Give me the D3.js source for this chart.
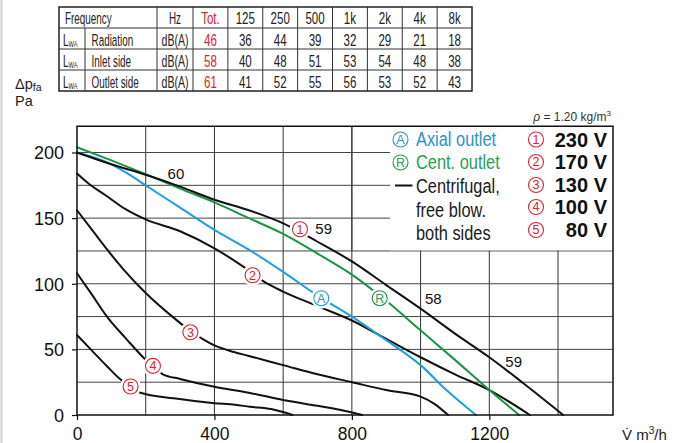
<!DOCTYPE html>
<html><head><meta charset="utf-8">
<script src="https://cdn.jsdelivr.net/npm/d3@7/dist/d3.min.js"></script>
<style>
html,body{margin:0;padding:0;background:#fff;}
svg{display:block;}
text{font-family:"Liberation Sans",Arial,Helvetica,sans-serif;}
</style></head>
<body>
<svg id="c" width="679" height="443"></svg>
<script>
// ---------- DATA ----------
const tableHead = ["Frequency","Hz"];
const tableCols = ["Tot.","125","250","500","1k","2k","4k","8k"];
const tableRowNames = ["Radiation","Inlet side","Outlet side"];
const tableUnit = "dB(A)";
const lwaRadiation = [46,36,44,39,32,29,21,18];
const lwaInlet     = [58,40,48,51,53,54,48,38];
const lwaOutlet    = [61,41,52,55,56,53,52,43];

const xTicks = [0,400,800,1200];
const yTicks = [0,50,100,150,200];

const curve230 = [[0,200],[100,191],[200,183],[300,174],[400,164],[500,156],[600,146],[700,132],[800,117],[900,99],[1000,81],[1100,62],[1200,44],[1300,24],[1415,0]];
const curve170 = [[0,184],[40,175],[80,168],[140,157],[200,149],[300,140],[400,127],[484,113],[542,102],[600,94],[700,83],[800,72],[900,58],[1000,44],[1100,31],[1200,19],[1318,0]];
const curve130 = [[0,156],[50,139],[88,126],[135,111],[200,93],[282,74],[330,64],[365,58],[400,53],[457,48],[500,45],[600,38],[700,31],[800,25],[900,19],[1000,14],[1040,8.5],[1080,0]];
const curve100 = [[0,108],[40,93],[90,74],[140,59],[200,42],[250,31],[300,27.5],[400,21.5],[500,17],[600,11.5],[700,7],[765,4],[830,0]];
const curve80  = [[0,61],[40,50],[88,37],[127,27],[156,21.5],[185,17],[282,12.7],[400,9],[460,7.8],[503,6.3],[565,4.5],[627,0]];
const curveAxial = [[0,200],[100,191],[150,183.5],[200,175],[300,158],[400,141],[500,126],[600,109],[700,91],[800,75],[900,57],[1000,38],[1075,19],[1161,0]];
const curveCent  = [[0,204],[100,194],[200,183.5],[300,172.5],[400,162],[500,150],[600,138],[700,123],[800,107],[900,87],[1000,64.5],[1100,42],[1200,19],[1287,0]];

const curveMarks = [
  {t:"1",x:649,y:141.5,k:"red"},{t:"2",x:511,y:106.5,k:"red"},{t:"3",x:330,y:63},
  {t:"4",x:221,y:37.4},{t:"5",x:156,y:21.7},{t:"A",x:711,y:89,k:"blue"},{t:"R",x:881,y:89,k:"green"}
];
const levelLabels = [{t:"60",x:288,y:184},{t:"59",x:718,y:142},{t:"58",x:1037,y:89},{t:"59",x:1271,y:41}];
const legendLines = ["Axial outlet","Cent. outlet","Centrifugal,","free blow.","both sides"];
const voltages = ["230 V","170 V","130 V","100 V","80 V"];

// ---------- STYLE ----------
const RED="#e3202b", BLUE="#1e9fdc", BLUET="#2b93c6", GREEN="#1c9446", GREENT="#27a058";
const colorOf = k => k==="blue"?BLUE:(k==="green"?GREEN:RED);
const textColorOf = k => k==="blue"?BLUET:(k==="green"?GREENT:RED);

const svg = d3.select("#c");
svg.append("line").attr("x1",1.5).attr("x2",1.5).attr("y1",0).attr("y2",443).attr("stroke","#d0d0d0").attr("stroke-width",2);

function ntext(parent,x,y,str,size,sx,anchor,color){
  return parent.append("text").attr("transform",`translate(${x},${y}) scale(${sx},1)`)
    .attr("font-size",size).attr("text-anchor",anchor||"start").attr("fill",color||"#222").text(str);
}

// ---------- TABLE ----------
const tb = svg.append("g");
const colX = d3.scaleBand().domain(tableCols).range([193,472]);
const rowY = d3.scaleBand().domain(["head",...tableRowNames]).range([7,91]);
const tL=59, tSub=85, tHz=157, tR=472;
["head",...tableRowNames].forEach((r,i)=>{
  if(i>0) tb.append("line").attr("x1",tL).attr("x2",tR).attr("y1",rowY(r)).attr("y2",rowY(r)).attr("stroke","#333").attr("stroke-width",1);
});
[tHz,...tableCols.map(c=>colX(c))].forEach(x=>{
  tb.append("line").attr("x1",x).attr("x2",x).attr("y1",7).attr("y2",91).attr("stroke","#333").attr("stroke-width",1);
});
tb.append("line").attr("x1",tSub).attr("x2",tSub).attr("y1",rowY("Radiation")).attr("y2",91).attr("stroke","#333").attr("stroke-width",1);
tb.append("rect").attr("x",tL).attr("y",7).attr("width",tR-tL).attr("height",84).attr("fill","none").attr("stroke","#222").attr("stroke-width",1.5);

const fs=16.5, sw=0.6, sn=0.7;
const hb = rowY("head")+rowY.bandwidth()-4;
ntext(tb,65,hb,tableHead[0],fs,sw);
ntext(tb,(tHz+colX("Tot."))/2,hb,tableHead[1],fs,sw,"middle");
tableCols.forEach(c=>ntext(tb,colX(c)+colX.bandwidth()/2,hb,c,fs,sn,"middle",c==="Tot."?RED:"#222"));
const rowsData=[lwaRadiation,lwaInlet,lwaOutlet];
tableRowNames.forEach((r,i)=>{
  const b=rowY(r)+rowY.bandwidth()-3.5;
  const t=ntext(tb,63,b,"",fs,sw);
  t.append("tspan").text("L");
  t.append("tspan").attr("font-size",9.5).attr("dy",1.5).text("WA");
  ntext(tb,91.5,b,r,fs,sw);
  ntext(tb,(tHz+colX("Tot."))/2,b,tableUnit,fs,0.64,"middle");
  rowsData[i].forEach((v,j)=>ntext(tb,colX(tableCols[j])+colX.bandwidth()/2,b,v,fs,sn,"middle",j===0?RED:"#222"));
});

// ---------- CHART ----------
const x = d3.scaleLinear().domain([0,1560]).range([77,613]);
const y = d3.scaleLinear().domain([0,220]).range([415,126.25]);
const g = svg.append("g");

const grid = g.append("g").attr("stroke","#333").attr("stroke-width",1);
d3.range(200,1560,200).forEach(v=>{
  grid.append("line").attr("x1",x(v)).attr("x2",x(v)).attr("y1",y(220)).attr("y2",y(0));
});
d3.range(25,220,25).forEach(v=>{
  grid.append("line").attr("x1",x(0)).attr("x2",x(1560)).attr("y1",y(v)).attr("y2",y(v)).attr("stroke","#444");
});
g.append("rect").attr("x",390).attr("y",y(220)).attr("width",x(1560)-390).attr("height",y(125)-y(220)-0.6).attr("fill","#fff");
g.append("line").attr("x1",x(800)).attr("x2",x(800)).attr("y1",y(220)).attr("y2",y(125)).attr("stroke","#333");

const ax = g.append("g").attr("transform",`translate(0,${y(0)})`).call(d3.axisBottom(x).tickValues(xTicks).tickSize(5).tickSizeOuter(0).tickFormat(d3.format("d")));
const ay = g.append("g").attr("transform",`translate(${x(0)},0)`).call(d3.axisLeft(y).tickValues(yTicks).tickSize(5).tickSizeOuter(0).tickPadding(8));
[ax,ay].forEach(a=>{
  a.select(".domain").remove();
  a.selectAll(".tick line").attr("stroke","#111").attr("stroke-width",1.2);
  a.selectAll("text").attr("font-family","Liberation Sans, Arial, sans-serif").attr("font-size",18).attr("fill","#111");
});
ay.selectAll("text").attr("dy","0.36em");
ax.selectAll("text").attr("y",25).attr("dy",0).attr("font-size",17.5);

const line = d3.line().x(d=>x(d[0])).y(d=>y(d[1])).curve(d3.curveMonotoneX);
const cg = g.append("g").attr("fill","none").attr("stroke-linejoin","round").attr("stroke-linecap","round");
[curve80,curve100,curve130,curve170].forEach(c=>cg.append("path").attr("d",line(c)).attr("stroke","#111").attr("stroke-width",2));
cg.append("path").attr("d",line(curveAxial)).attr("stroke",BLUE).attr("stroke-width",2);
cg.append("path").attr("d",line(curveCent)).attr("stroke",GREEN).attr("stroke-width",2);
cg.append("path").attr("d",line(curve230)).attr("stroke","#111").attr("stroke-width",2);

g.append("rect").attr("x",x(0)).attr("y",y(220)).attr("width",x(1560)-x(0)).attr("height",y(0)-y(220)).attr("fill","none").attr("stroke","#111").attr("stroke-width",1.5);

function circled(parent,cx,cy,t,col,tcol,bg){
  if(bg) parent.append("circle").attr("cx",cx).attr("cy",cy).attr("r",bg).attr("fill","#fff");
  parent.append("circle").attr("cx",cx).attr("cy",cy).attr("r",7.5).attr("fill","none").attr("stroke",col).attr("stroke-width",1.1);
  parent.append("text").attr("x",cx).attr("y",cy+4.4).attr("text-anchor","middle").attr("font-size",12.5).attr("fill",tcol).text(t);
}
curveMarks.forEach(m=>circled(g,x(m.x),y(m.y),m.t,colorOf(m.k),textColorOf(m.k),10.5));
levelLabels.forEach(l=>{
  g.append("text").attr("x",x(l.x)).attr("y",y(l.y)+5.5).attr("text-anchor","middle").attr("font-size",15).attr("fill","#111").text(l.t);
});

const lg = svg.append("g");
circled(lg,400.5,139.5,"A",BLUET,BLUET,0);
circled(lg,400.5,162.5,"R",GREENT,GREENT,0);
lg.append("line").attr("x1",395).attr("x2",412.5).attr("y1",185.5).attr("y2",185.5).attr("stroke","#111").attr("stroke-width",2);
const ly=[145.5,169,192.5,216.5,240], lc=[BLUET,GREENT,"#1a1a1a","#1a1a1a","#1a1a1a"];
legendLines.forEach((d,i)=>ntext(lg,416,ly[i],d,19.5,0.84,"start",lc[i]));
const vy=[139.5,162,185,207,230];
voltages.forEach((v,i)=>{
  circled(lg,536,vy[i],String(i+1),RED,RED,0);
  lg.append("text").attr("x",607).attr("y",vy[i]+7).attr("text-anchor","end").attr("font-size",20).attr("font-weight","bold").attr("fill","#111").text(v);
});

const rho = svg.append("text").attr("x",611).attr("y",121).attr("text-anchor","end").attr("font-size",12).attr("fill","#333");
rho.append("tspan").attr("font-style","italic").text("ρ");
rho.append("tspan").text(" = 1.20 kg/m");
rho.append("tspan").attr("font-size",8).attr("dy",-5).text("3");

const dp = svg.append("text").attr("x",15).attr("y",88.5).attr("font-size",14.5).attr("fill","#222");
dp.append("tspan").text("Δp");
dp.append("tspan").attr("font-size",10.5).attr("dy",2.5).text("fa");
svg.append("text").attr("x",15).attr("y",106).attr("font-size",14.5).attr("fill","#222").text("Pa");

const vu = svg.append("text").attr("x",622).attr("y",440).attr("font-size",15).attr("fill","#222");
vu.append("tspan").text("V\u0307  m");
vu.append("tspan").attr("font-size",10).attr("dy",-6).text("3");
vu.append("tspan").attr("dy",6).text("/h");
</script>
</body></html>
